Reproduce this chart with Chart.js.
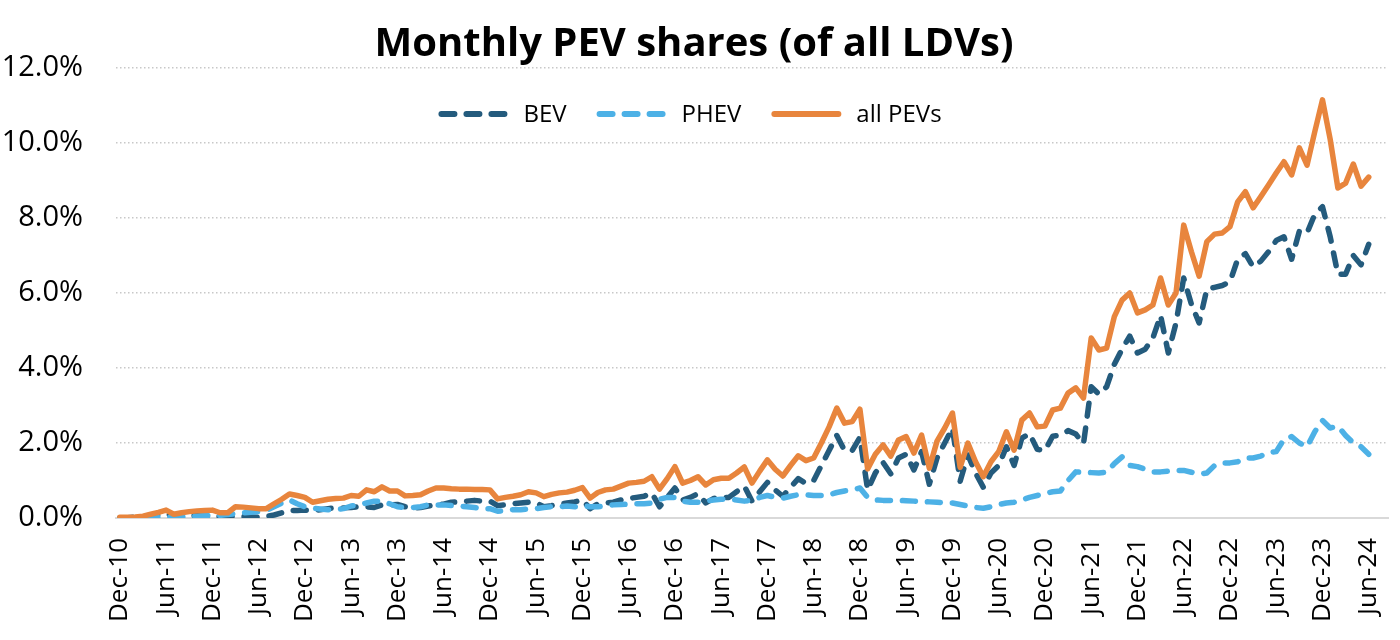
<!DOCTYPE html>
<html>
<head>
<meta charset="utf-8">
<title>Monthly PEV shares</title>
<script src="https://cdn.jsdelivr.net/npm/chart.js@4.4.0/dist/chart.umd.min.js"></script>
<style>
  html, body { margin: 0; padding: 0; background: #fff; }
  #wrap { width: 1400px; height: 640px; }
</style>
</head>
<body>
<div id="wrap"><canvas id="chart" width="1400" height="640"></canvas></div>
<script>
// 月ラベル (Dec-10 .. Aug-24, データは Jun-24 まで)
var monthNames = ['Jan', 'Feb', 'Mar', 'Apr', 'May', 'Jun', 'Jul', 'Aug', 'Sep', 'Oct', 'Nov', 'Dec'];
var categories = [];
for (var yr = 2010; yr <= 2024; yr++) {
  for (var m = 0; m < 12; m++) {
    if (yr === 2010 && m < 11) continue;
    if (yr === 2024 && m > 7) continue;
    categories.push(monthNames[m] + '-' + String(yr).slice(2));
  }
}

// 表示する目盛りラベル
var xTickLabels = ['Dec-10', 'Jun-11', 'Dec-11', 'Jun-12', 'Dec-12', 'Jun-13', 'Dec-13',
  'Jun-14', 'Dec-14', 'Jun-15', 'Dec-15', 'Jun-16', 'Dec-16', 'Jun-17', 'Dec-17',
  'Jun-18', 'Dec-18', 'Jun-19', 'Dec-19', 'Jun-20', 'Dec-20', 'Jun-21', 'Dec-21',
  'Jun-22', 'Dec-22', 'Jun-23', 'Dec-23', 'Jun-24'];
var yTicks = [0, 2, 4, 6, 8, 10, 12];

// シェア (%)
var bev = [
  0.01,
  0.01, 0.02, 0.03, 0.05, 0.08, 0.12, 0.05, 0.06, 0.07, 0.06, 0.05, 0.05,   // 2011
  0.04, 0.04, 0.05, 0.04, 0.03, 0.02, 0.04, 0.08, 0.14, 0.20, 0.20, 0.21,   // 2012
  0.20, 0.22, 0.25, 0.27, 0.27, 0.28, 0.30, 0.30, 0.28, 0.35, 0.35, 0.36,   // 2013
  0.30, 0.27, 0.28, 0.32, 0.35, 0.37, 0.42, 0.43, 0.45, 0.47, 0.45, 0.45,   // 2014
  0.33, 0.35, 0.38, 0.40, 0.42, 0.40, 0.30, 0.33, 0.37, 0.40, 0.43, 0.48,   // 2015
  0.25, 0.38, 0.40, 0.42, 0.48, 0.52, 0.55, 0.58, 0.67, 0.30, 0.55, 0.80,   // 2016
  0.48, 0.55, 0.65, 0.40, 0.52, 0.55, 0.55, 0.70, 0.85, 0.45, 0.70, 0.95,   // 2017
  0.75, 0.58, 0.82, 1.05, 0.92, 1.00, 1.40, 1.80, 2.20, 1.80, 1.80, 2.15,   // 2018
  0.75, 1.20, 1.48, 1.18, 1.60, 1.70, 1.28, 1.77, 0.90, 1.60, 2.00, 2.40,   // 2019
  0.98, 1.68, 1.20, 0.82, 1.20, 1.40, 1.90, 1.40, 2.13, 2.25, 1.83, 1.80,   // 2020
  2.18, 2.21, 2.33, 2.24, 1.98, 3.50, 3.30, 3.50, 4.10, 4.50, 4.85, 4.40,   // 2021
  4.50, 4.80, 5.40, 4.40, 5.20, 6.40, 5.70, 5.20, 6.10, 6.15, 6.20, 6.30,   // 2022
  6.90, 7.05, 6.70, 6.85, 7.10, 7.40, 7.50, 6.90, 7.65, 7.60, 8.10, 8.30,   // 2023
  7.50, 6.50, 6.50, 7.00, 6.75, 7.30                                        // 2024
];
var phev = [
  0.00,
  0.00, 0.01, 0.01, 0.02, 0.02, 0.02, 0.02, 0.03, 0.04, 0.05, 0.06, 0.07,   // 2011
  0.07, 0.09, 0.12, 0.14, 0.15, 0.17, 0.20, 0.30, 0.40, 0.48, 0.38, 0.30,   // 2012
  0.26, 0.24, 0.22, 0.22, 0.25, 0.32, 0.35, 0.40, 0.45, 0.45, 0.38, 0.30,   // 2013
  0.28, 0.28, 0.30, 0.35, 0.35, 0.35, 0.33, 0.32, 0.30, 0.28, 0.25, 0.25,   // 2014
  0.18, 0.20, 0.22, 0.22, 0.24, 0.25, 0.28, 0.30, 0.30, 0.32, 0.30, 0.33,   // 2015
  0.30, 0.30, 0.33, 0.35, 0.36, 0.37, 0.38, 0.38, 0.40, 0.50, 0.55, 0.55,   // 2016
  0.45, 0.42, 0.42, 0.45, 0.48, 0.50, 0.50, 0.48, 0.45, 0.47, 0.55, 0.60,   // 2017
  0.55, 0.53, 0.58, 0.62, 0.62, 0.60, 0.60, 0.62, 0.68, 0.72, 0.75, 0.80,   // 2018
  0.55, 0.48, 0.47, 0.47, 0.47, 0.46, 0.45, 0.44, 0.43, 0.42, 0.40, 0.40,   // 2019
  0.36, 0.32, 0.28, 0.26, 0.30, 0.36, 0.40, 0.42, 0.48, 0.55, 0.60, 0.65,   // 2020
  0.70, 0.72, 1.00, 1.23, 1.22, 1.21, 1.20, 1.22, 1.45, 1.63, 1.40, 1.37,   // 2021
  1.30, 1.23, 1.23, 1.25, 1.27, 1.27, 1.22, 1.17, 1.20, 1.40, 1.47, 1.47,   // 2022
  1.50, 1.60, 1.60, 1.65, 1.75, 1.77, 2.10, 2.17, 2.00, 1.90, 2.30, 2.60,   // 2023
  2.40, 2.45, 2.20, 2.00, 1.90, 1.70                                        // 2024
];
var allPev = [
  0.02,
  0.02, 0.03, 0.05, 0.10, 0.15, 0.21, 0.10, 0.14, 0.17, 0.19, 0.20, 0.21,   // 2011
  0.14, 0.14, 0.30, 0.29, 0.27, 0.25, 0.25, 0.38, 0.50, 0.64, 0.60, 0.55,   // 2012
  0.42, 0.46, 0.50, 0.52, 0.53, 0.60, 0.58, 0.75, 0.70, 0.83, 0.72, 0.72,   // 2013
  0.59, 0.60, 0.62, 0.72, 0.80, 0.80, 0.78, 0.77, 0.77, 0.76, 0.76, 0.75,   // 2014
  0.51, 0.55, 0.58, 0.62, 0.70, 0.67, 0.57, 0.63, 0.67, 0.69, 0.74, 0.81,   // 2015
  0.53, 0.68, 0.75, 0.77, 0.85, 0.93, 0.95, 0.98, 1.10, 0.77, 1.05, 1.37,   // 2016
  0.93, 1.00, 1.10, 0.88, 1.02, 1.06, 1.06, 1.20, 1.36, 0.93, 1.25, 1.55,   // 2017
  1.30, 1.12, 1.40, 1.66, 1.53, 1.60, 2.00, 2.43, 2.93, 2.53, 2.57, 2.90,   // 2018
  1.31, 1.70, 1.95, 1.65, 2.08, 2.17, 1.73, 2.21, 1.33, 2.05, 2.40, 2.80,   // 2019
  1.35, 2.00, 1.50, 1.10, 1.50, 1.77, 2.30, 1.81, 2.61, 2.80, 2.43, 2.45,   // 2020
  2.88, 2.93, 3.33, 3.47, 3.20, 4.80, 4.48, 4.53, 5.37, 5.81, 6.00, 5.47,   // 2021
  5.55, 5.68, 6.40, 5.68, 6.00, 7.81, 7.10, 6.45, 7.37, 7.57, 7.60, 7.77,   // 2022
  8.43, 8.70, 8.27, 8.57, 8.88, 9.20, 9.50, 9.15, 9.87, 9.41, 10.30, 11.15, // 2023
  10.10, 8.80, 8.93, 9.44, 8.85, 9.09                                       // 2024
];

var FONT = '"Open Sans", "Noto Sans", sans-serif';

// グラフ内に凡例を描く
var insideLegend = {
  id: 'insideLegend',
  afterDraw: function(chart) {
    var ctx = chart.ctx;
    var sets = chart.data.datasets;
    var sample = 70, gapText = 15, gapItem = 30;
    ctx.save();
    ctx.font = '24px ' + FONT;
    var total = 0;
    sets.forEach(function(ds, i) {
      total += sample + gapText + ctx.measureText(ds.label).width;
      if (i < sets.length - 1) total += gapItem;
    });
    var x = 690 - total / 2;
    var y = 114;
    sets.forEach(function(ds) {
      ctx.beginPath();
      ctx.setLineDash(ds.borderDash || []);
      ctx.lineCap = 'round';
      ctx.lineWidth = 6;
      ctx.strokeStyle = ds.borderColor;
      ctx.moveTo(x + 3, y);
      ctx.lineTo(x + sample - 3, y);
      ctx.stroke();
      ctx.setLineDash([]);
      ctx.fillStyle = '#000';
      ctx.textAlign = 'left';
      ctx.textBaseline = 'middle';
      ctx.fillText(ds.label, x + sample + gapText, y + 1);
      x += sample + gapText + ctx.measureText(ds.label).width + gapItem;
    });
    ctx.restore();
  }
};

var ctx = document.getElementById('chart').getContext('2d');
var chart = new Chart(ctx, {
  type: 'line',
  data: {
    labels: categories,
    datasets: [{
      label: 'BEV',
      data: bev,
      borderColor: '#245B7D',
      borderWidth: 5.5,
      borderDash: [13, 12],
      borderCapStyle: 'round',
      borderJoinStyle: 'round',
      pointRadius: 0,
      order: 2
    }, {
      label: 'PHEV',
      data: phev,
      borderColor: '#4DB1E6',
      borderWidth: 5.5,
      borderDash: [13, 12],
      borderCapStyle: 'round',
      borderJoinStyle: 'round',
      pointRadius: 0,
      order: 1
    }, {
      label: 'all PEVs',
      data: allPev,
      borderColor: '#E8853D',
      borderWidth: 5.5,
      borderCapStyle: 'round',
      borderJoinStyle: 'round',
      pointRadius: 0,
      order: 0
    }]
  },
  options: {
    responsive: false,
    animation: false,
    events: [],
    layout: { padding: { left: 0, right: 12, top: 0, bottom: 0 } },
    plugins: {
      legend: { display: false },
      tooltip: { enabled: false },
      title: {
        display: true,
        text: 'Monthly PEV shares (of all LDVs)',
        color: '#000',
        font: { family: FONT, size: 40, weight: 'bold', lineHeight: 1.15 },
        padding: { top: 22, bottom: 0 }
      }
    },
    elements: { line: { tension: 0 } },
    scales: {
      x: {
        offset: true,
        grid: { display: false, drawTicks: false },
        border: { display: true, color: '#D9D9D9', width: 2 },
        ticks: {
          autoSkip: false,
          minRotation: 90,
          maxRotation: 90,
          padding: 20,
          color: '#000',
          font: { family: FONT, size: 26 },
          callback: function(value) {
            var lab = this.getLabelForValue(value);
            return xTickLabels.indexOf(lab) >= 0 ? lab : null;
          }
        },
        afterFit: function(scale) {
          scale.height = 122;
          // 回転ラベル分の余白は不要
          scale.paddingLeft = 0;
          scale.paddingRight = 0;
        }
      },
      y: {
        min: yTicks[0],
        max: yTicks[yTicks.length - 1],
        grid: { color: '#C8C8C8', lineWidth: 1.5, drawTicks: false },
        border: { display: false, dash: [1.5, 2.5] },
        afterBuildTicks: function(scale) {
          scale.ticks = yTicks.map(function(v) { return { value: v }; });
        },
        ticks: {
          padding: 33,
          color: '#000',
          font: { family: FONT, size: 29 },
          callback: function(value) { return value.toFixed(1) + '%'; }
        },
        afterFit: function(scale) {
          scale.width = 116;
          scale.paddingTop = 0;
          scale.paddingBottom = 0;
        }
      }
    }
  },
  plugins: [insideLegend]
});
</script>
</body>
</html>
